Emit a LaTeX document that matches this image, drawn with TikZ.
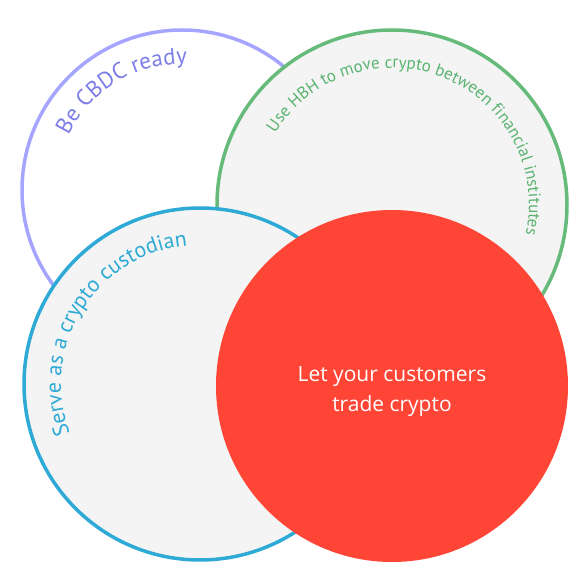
\documentclass[tikz,border=0pt]{standalone}
\usepackage{fontspec}
\setmainfont{Open Sans}
\newfontfamily\arcfont{PT Sans}
\usepackage{tikz}
\usetikzlibrary{decorations.text}
\definecolor{cbdcline}{RGB}{165,165,255}
\definecolor{cbdctext}{RGB}{125,125,232}
\definecolor{hbhline}{RGB}{102,187,122}
\definecolor{hbhtext}{RGB}{90,180,112}
\definecolor{custline}{RGB}{46,170,214}
\definecolor{tradered}{RGB}{255,69,54}
\definecolor{softgray}{RGB}{244,244,244}

\begin{document}
\begin{tikzpicture}[x=1pt, y=1pt,
      ring/.style={circle, inner sep=0pt, line width=3.5pt},
      arctext/.style={decorate, decoration={text along path,
                      text align=center, text color=#1}}
    ]
    \useasboundingbox (0,0) rectangle (587,563);

    % the four circles, back to front
    \node[ring, minimum size=320pt, draw=cbdcline, fill=white]     (cbdc)  at (182,373) {};
    \node[ring, minimum size=350pt, draw=hbhline, fill=softgray]   (hbh)   at (392,358) {};
    \node[ring, minimum size=352pt, draw=custline, fill=softgray]  (cust)  at (200,179) {};
    \node[circle, inner sep=0pt, minimum size=352pt, fill=tradered] (trade) at (392,177) {};

    \node[text=white, align=center, font=\fontsize{21}{30}\selectfont]
         (tradelbl) at ([yshift=-6pt]trade.center) {Let your customers\\trade crypto};

    % curved labels inside the circles
    \path[arctext=cbdctext, decoration={text={|\arcfont\fontsize{23}{27}\selectfont|Be CBDC ready}}]
         (cbdc.center) ++(211:126) arc[start angle=211, end angle=31, radius=126];
    \path[arctext=hbhtext, decoration={text={|\arcfont\fontsize{17}{20}\selectfont|Use HBH to move crypto between financial institutes}}]
         (hbh.center) ++(158:137) arc[start angle=158, end angle=-22, radius=137];
    \path[arctext=custline, decoration={text={|\arcfont\fontsize{22}{26}\selectfont|Serve as a crypto custodian}}]
         (cust.center) ++(238:139) arc[start angle=238, end angle=58, radius=139];
\end{tikzpicture}
\end{document}
